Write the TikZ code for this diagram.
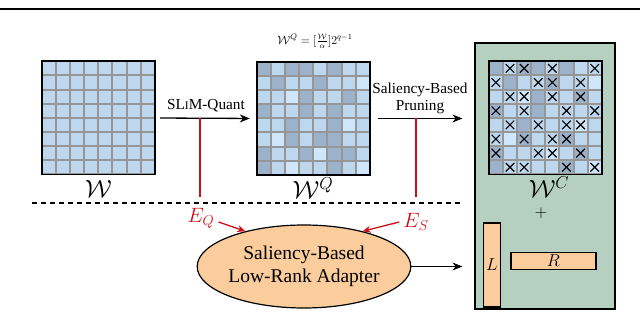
\documentclass[tikz,border=0pt]{standalone}
\usepackage{fontspec}
\setmainfont{Liberation Serif}
\usetikzlibrary{arrows.meta,calc,shapes.geometric}
\definecolor{cM}{RGB}{189,215,238}
\definecolor{cD}{RGB}{156,178,202}
\definecolor{cL}{RGB}{208,230,251}
\definecolor{gline}{RGB}{150,150,150}
\definecolor{boxgreen}{RGB}{181,207,192}
\definecolor{orng}{RGB}{251,204,156}
\definecolor{redc}{RGB}{204,16,24}
\newcommand{\cellsz}{14.125}
\tikzset{
  xmark/.style={path picture={
    \draw[line width=1.1pt,black]
      ([shift={(2.8,2.8)}]path picture bounding box.north west) -- ([shift={(-2.8,-2.8)}]path picture bounding box.south east)
      ([shift={(-2.8,2.8)}]path picture bounding box.north east) -- ([shift={(2.8,-2.8)}]path picture bounding box.south west);}},
  cellM/.style={fill=cM}, cellD/.style={fill=cD}, cellL/.style={fill=cL},
  cellMX/.style={fill=cM,xmark}, cellDX/.style={fill=cD,xmark}, cellLX/.style={fill=cL,xmark},
  gridbox/.style={rectangle, minimum width=113pt, minimum height=113pt, inner sep=0pt},
  arr/.style={line width=1.3pt, -{Stealth[length=10pt,width=8pt]}},
  redarr/.style={redc, line width=1.3pt, -{Stealth[length=8pt,width=7pt]}},
  redline/.style={redc, line width=1.5pt},
  lbl/.style={font=\fontsize{15.3}{17}\selectfont, align=center, inner sep=0pt},
  wlbl/.style={font=\fontsize{23}{23}\selectfont, inner sep=0pt},
  elbl/.style={font=\fontsize{21}{21}\selectfont, text=redc, inner sep=0pt},
  orbox/.style={draw, line width=1.1pt, fill=orng, rectangle, inner sep=0pt, font=\fontsize{19}{19}\selectfont},
}
\newcommand{\gridcells}[2]{%
  \begin{scope}[shift={(#1.north west)}]
    \foreach \row [count=\rr] in {#2} {
      \foreach \c [count=\kk] in \row {
        \path[cell\c] ({(\kk-1)*\cellsz},{(\rr-1)*\cellsz}) rectangle ++(\cellsz,\cellsz);
      }
    }
    \foreach \ii in {0,...,8} {
      \draw[gline, line width=2pt] ({\ii*\cellsz},0) -- ({\ii*\cellsz},113);
      \draw[gline, line width=2pt] (0,{\ii*\cellsz}) -- (113,{\ii*\cellsz});
    }
  \end{scope}
  \draw[line width=1.6pt] (#1.north west) rectangle (#1.south east);
}
\begin{document}
\begin{tikzpicture}[x=1pt,y=-1pt]
\useasboundingbox (0,0) rectangle (640,312);
% top rule
\coordinate (tl) at (0,9);
\coordinate (tr) at (640,9);
\draw[line width=2pt] (tl) -- (tr);

% green box
\node[draw, fill=boxgreen, line width=1.2pt, rectangle, minimum width=140pt, minimum height=266pt, inner sep=0pt] (gbox) at (545,176) {};

% grids
\node[gridbox] (g1) at (98.5,118) {};
\node[gridbox] (g2) at (313.5,118.5) {};
\node[gridbox] (g3) at (545.5,118) {};

\gridcells{g1}{{M,M,M,M,M,M,M,M},{M,M,M,M,M,M,M,M},{M,M,M,M,M,M,M,M},{M,M,M,M,M,M,M,M},{M,M,M,M,M,M,M,M},{M,M,M,M,M,M,M,M},{M,M,M,M,M,M,M,M},{M,M,M,M,M,M,M,M}}
\gridcells{g2}{{D,M,D,D,M,D,M,M},{M,D,M,M,D,M,M,L},{M,M,L,D,M,M,D,M},{D,M,M,D,M,D,M,M},{M,M,D,M,M,D,L,M},{M,L,D,M,D,D,M,M},{D,M,M,D,L,D,D,M},{D,M,L,M,M,D,M,L}}
\gridcells{g3}{{D,MX,DX,D,MX,D,M,MX},{MX,D,M,MX,DX,M,MX,L},{M,MX,LX,D,MX,M,DX,M},{DX,M,MX,D,M,MX,M,MX},{M,MX,D,MX,M,MX,LX,M},{MX,L,DX,M,MX,DX,M,M},{DX,M,M,MX,LX,M,DX,M},{D,MX,MX,M,M,DX,M,LX}}

% labels of grids
\node[wlbl] (lw) at (98.5,189) {$\mathcal{W}$};
\node[wlbl] (lwq) at (313,188) {$\mathcal{W}^{Q}$};
\node[wlbl] (lwc) at (549,187) {$\mathcal{W}^{C}$};
\node[font=\fontsize{11.5}{13}\selectfont, inner sep=0pt] (formula) at (315,41) {$\mathcal{W}^{Q}=[\frac{\mathcal{W}}{\alpha}]2^{q-1}$};

% top arrows
\draw[arr, shorten <=5pt, shorten >=7pt] (g1.east) -- (g2.west);
\node[lbl] (slim) at (206,106) {SL{\fontsize{11.5}{11.5}\selectfont I}M-Quant};
\draw[arr, shorten <=8pt, shorten >=12pt] (g2.east) -- (g2.east -| gbox.west);
\node[lbl] (prun) at (420,98) {Saliency-Based\\Pruning};

% red lines
\coordinate (rq1) at (200,118);
\coordinate (rq2) at (200,197);
\coordinate (rs1) at (416,118);
\coordinate (rs2) at (416,197);
\draw[redline] (rq1) -- (rq2);
\draw[redline] (rs1) -- (rs2);

% dashed separator
\coordinate (dl) at (32,203);
\coordinate (dr) at (463,203);
\draw[line width=1.3pt, dash pattern=on 5pt off 4pt] (dl) -- (dr);

% adapter
\node[ellipse, draw, line width=1.2pt, fill=orng, minimum width=182pt, minimum height=83pt, inner sep=0pt, align=center, font=\fontsize{19.5}{23}\selectfont] (sla) at (304,266.5) {Saliency-Based\\Low-Rank Adapter};

\node[elbl] (eq) at (201,218) {$E_Q$};
\node[elbl] (es) at (416,222) {$E_S$};
\draw[redarr] ($(eq.east)+(4,4)$) -- (sla.149);
\draw[redarr] ($(es.west)+(-4,0)$) -- (sla.31);

\draw[arr, shorten >=12pt] (sla.east) -- (sla.east -| gbox.west);

% plus, L, R
\node[font=\fontsize{16}{16}\selectfont, inner sep=0pt] (plus) at (541,213) {$+$};
\node[orbox, minimum width=17.5pt, minimum height=84pt] (Lb) at (492,265) {$L$};
\node[orbox, minimum width=85pt, minimum height=17pt] (Rb) at (553.5,261) {$R$};
\end{tikzpicture}
\end{document}
